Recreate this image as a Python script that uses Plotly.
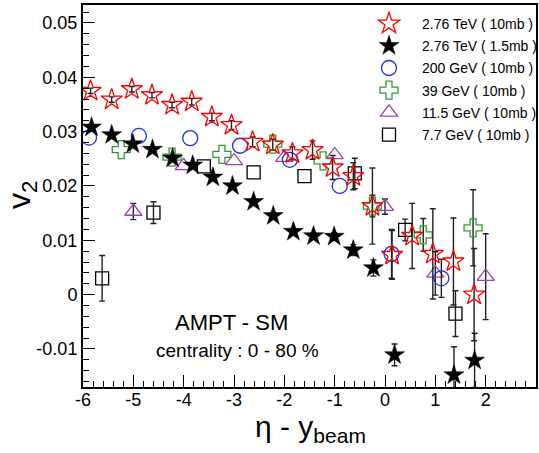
import plotly.graph_objects as go

# ---------------- data ----------------
# 2.76 TeV (10mb) - red open stars
x_276_10 = [-5.85, -5.43, -5.03, -4.63, -4.23, -3.84, -3.44, -3.05, -2.63, -2.23,
            -1.84, -1.44, -1.04, -0.63, -0.25, 0.14, 0.54, 0.95, 1.36, 1.77]
y_276_10 = [0.0375, 0.0359, 0.0378, 0.0367, 0.0349, 0.0355, 0.0327, 0.0312, 0.0281, 0.0276,
            0.0260, 0.0266, 0.0234, 0.0218, 0.0163, 0.0073, 0.0108, 0.0075, 0.0061, 0.0000]
e_276_10 = [0.0005, 0.0005, 0.0005, 0.0005, 0.0005, 0.0006, 0.0007, 0.0008, 0.0009, 0.0010,
            0.0012, 0.0017, 0.0022, 0.0025, 0.0020, 0.0045, 0.0060, 0.0083, 0.0080, 0.0085]

# 2.76 TeV (1.5mb) - black filled stars
x_276_15 = [-5.83, -5.43, -5.01, -4.62, -4.22, -3.82, -3.42, -3.03, -2.61, -2.22,
            -1.82, -1.42, -1.01, -0.63, -0.23, 0.19, 1.37, 1.78]
y_276_15 = [0.0308, 0.0294, 0.0277, 0.0267, 0.0251, 0.0238, 0.0216, 0.0200, 0.0171, 0.0145,
            0.0116, 0.0108, 0.0107, 0.0082, 0.0049, -0.0111, -0.0148, -0.0121]
e_276_15 = [0.0003, 0.0003, 0.0003, 0.0003, 0.0003, 0.0004, 0.0004, 0.0004, 0.0005, 0.0005,
            0.0006, 0.0006, 0.0007, 0.0010, 0.0015, 0.0020, 0.0052, 0.0050]

# 200 GeV (10mb) - blue open circles
x_200 = [-5.88, -4.89, -3.87, -2.88, -1.89, -0.90, 0.13, 1.12]
y_200 = [0.0289, 0.0292, 0.0288, 0.0274, 0.0248, 0.0200, 0.0075, 0.0030]
e_200 = [0.0, 0.0, 0.0, 0.0, 0.0, 0.0, 0.0045, 0.0035]

# 39 GeV (10mb) - green open crosses
x_39 = [-5.24, -4.23, -3.24, -2.23, -1.23, -0.25, 0.76, 1.75]
y_39 = [0.0267, 0.0253, 0.0258, 0.0277, 0.0246, 0.0163, 0.0110, 0.0123]
e_39 = [0.0, 0.0, 0.0, 0.0, 0.0, 0.0070, 0.0030, 0.0070]

# 11.5 GeV (10mb) - purple open triangles
x_115 = [-5.0, -4.0, -3.0, -2.0, -1.0, 0.0, 1.0, 2.0]
y_115 = [0.0153, 0.0237, 0.0246, 0.0252, 0.0257, 0.0162, 0.0039, 0.0033]
e_115 = [0.0015, 0.0, 0.0, 0.0, 0.0, 0.0014, 0.0040, 0.0079]

# 7.7 GeV (10mb) - black open squares
x_77 = [-5.62, -4.60, -3.60, -2.61, -1.60, -0.60, 0.40, 1.40]
y_77 = [0.0030, 0.0151, 0.0236, 0.0225, 0.0218, 0.0223, 0.0119, -0.0035]
e_77 = [0.0042, 0.0020, 0.0, 0.0, 0.0, 0.0028, 0.0020, 0.0042]

x_ticks = [-6, -5, -4, -3, -2, -1, 0, 1, 2, 3]
x_ticktext = ["-6", "-5", "-4", "-3", "-2", "-1", "0", "1", "2", "3"]
y_ticks = [-0.01, 0.0, 0.01, 0.02, 0.03, 0.04, 0.05]
y_ticktext = ["-0.01", "0", "0.01", "0.02", "0.03", "0.04", "0.05"]

FONT = "Liberation Sans, Arial, Helvetica, sans-serif"
ERRC = "#222222"

fig = go.Figure()


def add_series(x, y, e, name, symbol, color, size, rank, lw=1.3):
    # error bars only for points that have a visible uncertainty
    idx = [i for i, v in enumerate(e) if v > 0]
    fig.add_trace(go.Scatter(
        x=[x[i] for i in idx], y=[y[i] for i in idx], mode="markers",
        showlegend=False, hoverinfo="skip",
        marker=dict(size=size, opacity=0, color=color),
        error_y=dict(type="data", array=[e[i] for i in idx], visible=True,
                     color=ERRC, thickness=1.4, width=3),
    ))
    fig.add_trace(go.Scatter(
        x=x, y=y, mode="markers", name=name, legendrank=rank, legendgroup=name,
        marker=dict(symbol=symbol, size=size, color=color,
                    line=dict(color=color, width=lw)),
    ))


add_series(x_77, y_77, e_77, "7.7 GeV ( 10mb )", "square-open", "#000000", 13, 6)
add_series(x_115, y_115, e_115, "11.5 GeV ( 10mb )", "triangle-up-open", "#a040b0", 15, 5)
add_series(x_39, y_39, e_39, "39 GeV ( 10mb )", "cross-open", "#2f9a2f", 15, 4)
add_series(x_200, y_200, e_200, "200 GeV ( 10mb )", "circle-open", "#1f2fef", 15, 3)
add_series(x_276_15, y_276_15, e_276_15, "2.76 TeV ( 1.5mb )", "star", "#000000", 15, 2, lw=0.5)
add_series(x_276_10, y_276_10, e_276_10, "2.76 TeV ( 10mb )", "star-open", "#ff0000", 16, 1)

axis_common = dict(
    showgrid=False, zeroline=False, showline=True, linecolor="black", linewidth=2,
    mirror=True, ticks="inside", ticklen=12, tickwidth=1, tickcolor="black",
    automargin=False,
    tickfont=dict(family=FONT, size=18, color="black"),
)


def px_to_paper_x(px):
    return (px - 83) / 453


def px_to_paper_y(py):
    return (387 - py) / 382


fig.update_layout(
    width=539, height=453,
    margin=dict(l=83, r=3, t=5, b=66, autoexpand=False),
    paper_bgcolor="white", plot_bgcolor="white",
    font=dict(family=FONT, color="black"),
    xaxis=dict(range=[-6, 3], tickvals=x_ticks, ticktext=x_ticktext,
               ticklabelstandoff=-5,
               minor=dict(ticks="inside", dtick=0.2, tick0=0, ticklen=6, tickcolor="black"),
               **axis_common),
    yaxis=dict(range=[-0.017, 0.0533], tickvals=y_ticks, ticktext=y_ticktext,
               minor=dict(ticks="inside", dtick=0.002, tick0=0, ticklen=6, tickcolor="black"),
               **axis_common),
    legend=dict(x=px_to_paper_x(356), y=px_to_paper_y(8), xanchor="left", yanchor="top",
                bgcolor="rgba(0,0,0,0)", borderwidth=0, itemwidth=56,
                font=dict(family=FONT, size=14, color="black"),
                traceorder="grouped", tracegroupgap=1),
    showlegend=True,
    annotations=[
        dict(text="η - y<sub>beam</sub>", x=px_to_paper_x(310), y=px_to_paper_y(408),
             xref="paper", yref="paper", showarrow=False, xanchor="center", yanchor="top",
             font=dict(family=FONT, size=30, color="black")),
        dict(text="v<sub>2</sub>", x=px_to_paper_x(21), y=px_to_paper_y(195),
             xref="paper", yref="paper", showarrow=False, xanchor="center", yanchor="middle",
             textangle=-90, font=dict(family=FONT, size=32, color="black")),
        dict(text="AMPT - SM", x=px_to_paper_x(231), y=px_to_paper_y(322),
             xref="paper", yref="paper", showarrow=False, xanchor="center", yanchor="middle",
             font=dict(family=FONT, size=22, color="black")),
        dict(text="centrality : 0 - 80 %", x=px_to_paper_x(237), y=px_to_paper_y(350),
             xref="paper", yref="paper", showarrow=False, xanchor="center", yanchor="middle",
             font=dict(family=FONT, size=19, color="black")),
    ],
)

fig.write_html("out.html", config={"displayModeBar": False},
               post_script="document.body.style.margin='0px';")
